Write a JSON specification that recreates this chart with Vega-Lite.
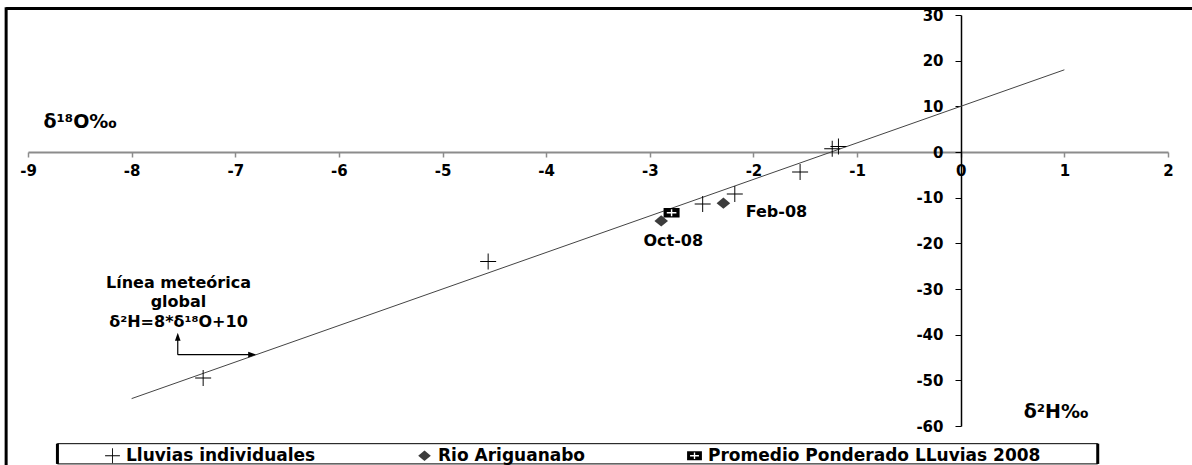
{
  "$schema": "https://vega.github.io/schema/vega-lite/v6.json",
  "width": 1140,
  "height": 411,
  "autosize": {"type": "none"},
  "padding": {"left": 28, "top": 15, "right": 24, "bottom": 39},
  "background": "white",
  "config": {
    "view": {"stroke": null},
    "font": "DejaVu Sans",
    "text": {"font": "DejaVu Sans", "fontWeight": "bold", "color": "black"}
  },
  "data": {
    "values": [
      {"d18O": -7.31, "d2H": -49.5, "serie": "Lluvias individuales", "etiqueta": ""},
      {"d18O": -4.56, "d2H": -24.0, "serie": "Lluvias individuales", "etiqueta": ""},
      {"d18O": -2.49, "d2H": -11.4, "serie": "Lluvias individuales", "etiqueta": ""},
      {"d18O": -2.18, "d2H": -9.2, "serie": "Lluvias individuales", "etiqueta": ""},
      {"d18O": -1.55, "d2H": -4.4, "serie": "Lluvias individuales", "etiqueta": ""},
      {"d18O": -1.24, "d2H": 0.7, "serie": "Lluvias individuales", "etiqueta": ""},
      {"d18O": -1.18, "d2H": 1.2, "serie": "Lluvias individuales", "etiqueta": ""},
      {"d18O": -2.89, "d2H": -15.1, "serie": "Rio Ariguanabo", "etiqueta": "Oct-08"},
      {"d18O": -2.29, "d2H": -11.2, "serie": "Rio Ariguanabo", "etiqueta": "Feb-08"},
      {"d18O": -2.79, "d2H": -13.3, "serie": "Promedio Ponderado LLuvias 2008", "etiqueta": ""}
    ]
  },
  "layer": [
    {
      "data": {"values": [{}]},
      "mark": {"type": "rule", "color": "black", "strokeWidth": 3},
      "encoding": {
        "x": {"datum": -9.211, "type": "quantitative"},
        "x2": {"datum": 2.5},
        "y": {"datum": 31.4, "type": "quantitative"},
        "y2": {"datum": 31.4}
      }
    },
    {
      "data": {"values": [{}]},
      "mark": {"type": "rule", "color": "black", "strokeWidth": 3},
      "encoding": {
        "x": {"datum": -9.211, "type": "quantitative"},
        "x2": {"datum": -9.211},
        "y": {"datum": 31.7, "type": "quantitative"},
        "y2": {"datum": -70}
      }
    },
    {
      "data": {"values": [{}]},
      "mark": {"type": "rect", "filled": false, "stroke": "black", "strokeWidth": 1},
      "encoding": {
        "x": {"datum": -8.716, "type": "quantitative"},
        "x2": {"datum": 1.322},
        "y": {"datum": -63.87, "type": "quantitative"},
        "y2": {"datum": -68.3}
      }
    },
    {
      "data": {"values": [{}]},
      "mark": {"type": "rule", "color": "black", "strokeWidth": 3},
      "encoding": {
        "x": {"datum": -8.716, "type": "quantitative"},
        "x2": {"datum": -8.716},
        "y": {"datum": -63.87, "type": "quantitative"},
        "y2": {"datum": -68.3}
      }
    },
    {
      "data": {"values": [{}]},
      "mark": {"type": "rule", "color": "black", "strokeWidth": 3},
      "encoding": {
        "x": {"datum": 1.322, "type": "quantitative"},
        "x2": {"datum": 1.322},
        "y": {"datum": -63.87, "type": "quantitative"},
        "y2": {"datum": -68.3}
      }
    },
    {
      "data": {"values": [{}]},
      "mark": {"type": "rule", "color": "#444444", "strokeWidth": 1},
      "encoding": {
        "x": {"datum": -8, "type": "quantitative"},
        "x2": {"datum": 1},
        "y": {"datum": -54, "type": "quantitative"},
        "y2": {"datum": 18}
      }
    },
    {
      "data": {"values": [{}]},
      "mark": {"type": "rule", "color": "black", "strokeWidth": 1.2},
      "encoding": {
        "x": {"datum": -7.555, "type": "quantitative"},
        "x2": {"datum": -7.555},
        "y": {"datum": -44.38, "type": "quantitative"},
        "y2": {"datum": -40.5}
      }
    },
    {
      "data": {"values": [{}]},
      "mark": {"type": "rule", "color": "black", "strokeWidth": 1.2},
      "encoding": {
        "x": {"datum": -7.555, "type": "quantitative"},
        "x2": {"datum": -6.85},
        "y": {"datum": -44.38, "type": "quantitative"},
        "y2": {"datum": -44.38}
      }
    },
    {
      "data": {"values": [{}]},
      "mark": {"type": "point", "shape": "M0,0L-0.7,2L0.7,2Z", "filled": true, "color": "black", "size": 64, "opacity": 1},
      "encoding": {
        "x": {"datum": -7.555, "type": "quantitative"},
        "y": {"datum": -39.57, "type": "quantitative"}
      }
    },
    {
      "data": {"values": [{}]},
      "mark": {"type": "point", "shape": "M0,0L-2,-0.7L-2,0.7Z", "filled": true, "color": "black", "size": 64, "opacity": 1},
      "encoding": {
        "x": {"datum": -6.798, "type": "quantitative"},
        "y": {"datum": -44.38, "type": "quantitative"}
      }
    },
    {
      "mark": {"type": "point", "filled": true, "opacity": 1, "size": 256, "strokeWidth": 0},
      "encoding": {
        "x": {
          "field": "d18O",
          "type": "quantitative",
          "scale": {"domain": [-9, 2], "nice": false, "zero": false},
          "axis": {
            "title": null,
            "values": [-9, -8, -7, -6, -5, -4, -3, -2, -1, 0, 1, 2],
            "labelExpr": "datum.value < 0 ? '-' + abs(datum.value) : '' + datum.value",
            "offset": -274,
            "grid": false,
            "domainColor": "#8c8c8c",
            "domainWidth": 2,
            "tickColor": "#8c8c8c",
            "tickWidth": 1.5,
            "tickSize": 5,
            "labelFont": "DejaVu Sans",
            "labelFontWeight": "bold",
            "labelFontSize": 15,
            "labelColor": "black",
            "labelPadding": 6,
            "labelFlush": false,
            "labelOverlap": false
          }
        },
        "y": {
          "field": "d2H",
          "type": "quantitative",
          "scale": {"domain": [-60, 30], "nice": false, "zero": false},
          "axis": {
            "title": null,
            "values": [-60, -50, -40, -30, -20, -10, 0, 10, 20, 30],
            "labelExpr": "datum.value < 0 ? '-' + abs(datum.value) : '' + datum.value",
            "offset": -933,
            "grid": false,
            "domainColor": "black",
            "domainWidth": 1.5,
            "tickColor": "black",
            "tickWidth": 1,
            "tickSize": 6,
            "labelFont": "DejaVu Sans",
            "labelFontWeight": "bold",
            "labelFontSize": 15,
            "labelColor": "black",
            "labelPadding": 12,
            "labelFlush": false,
            "labelOverlap": false
          }
        },
        "shape": {
          "field": "serie",
          "type": "nominal",
          "scale": {
            "domain": ["Lluvias individuales", "Rio Ariguanabo", "Promedio Ponderado LLuvias 2008"],
            "range": [
              "M-1,-0.06H-0.06V-1H0.06V-0.06H1V0.06H0.06V1H-0.06V0.06H-1Z",
              "M-0.85,0L0,-0.7L0.85,0L0,0.7Z",
              "M-1,-0.6H1V0.6H-1ZM-0.09,-0.45V-0.09H-0.6V0.09H-0.09V0.45H0.09V0.09H0.6V-0.09H0.09V-0.45Z"
            ]
          },
          "legend": {
            "orient": "none",
            "legendX": 76,
            "legendY": 432,
            "direction": "horizontal",
            "columns": 3,
            "title": null,
            "labelFont": "DejaVu Sans",
            "labelFontWeight": "bold",
            "labelFontSize": 17,
            "labelColor": "black",
            "labelOffset": 5,
            "columnPadding": 100,
            "symbolSize": 220,
            "symbolStrokeWidth": 0,
            "padding": 0,
            "labelLimit": 600
          }
        },
        "color": {
          "field": "serie",
          "type": "nominal",
          "scale": {
            "domain": ["Lluvias individuales", "Rio Ariguanabo", "Promedio Ponderado LLuvias 2008"],
            "range": ["#000000", "#3c3c3c", "#000000"]
          },
          "legend": {
            "orient": "none",
            "legendX": 76,
            "legendY": 432,
            "direction": "horizontal",
            "columns": 3,
            "title": null,
            "labelFont": "DejaVu Sans",
            "labelFontWeight": "bold",
            "labelFontSize": 17,
            "labelColor": "black",
            "labelOffset": 5,
            "columnPadding": 100,
            "symbolSize": 220,
            "symbolStrokeWidth": 0,
            "padding": 0,
            "labelLimit": 600
          }
        }
      }
    },
    {
      "transform": [{"filter": "datum.etiqueta == 'Oct-08'"}],
      "mark": {"type": "text", "fontSize": 16, "align": "center", "baseline": "alphabetic", "dx": 12, "dy": 25},
      "encoding": {
        "x": {"field": "d18O", "type": "quantitative"},
        "y": {"field": "d2H", "type": "quantitative"},
        "text": {"field": "etiqueta"}
      }
    },
    {
      "transform": [{"filter": "datum.etiqueta == 'Feb-08'"}],
      "mark": {"type": "text", "fontSize": 16, "align": "center", "baseline": "alphabetic", "dx": 53, "dy": 13.5},
      "encoding": {
        "x": {"field": "d18O", "type": "quantitative"},
        "y": {"field": "d2H", "type": "quantitative"},
        "text": {"field": "etiqueta"}
      }
    },
    {
      "data": {"values": [{}]},
      "mark": {"type": "text", "fontSize": 19, "align": "left", "baseline": "alphabetic"},
      "encoding": {
        "x": {"datum": -8.851, "type": "quantitative"},
        "y": {"datum": 5.26, "type": "quantitative"},
        "text": {"value": "δ¹⁸O‰"}
      }
    },
    {
      "data": {"values": [{}]},
      "mark": {"type": "text", "fontSize": 19, "align": "left", "baseline": "alphabetic"},
      "encoding": {
        "x": {"datum": 0.608, "type": "quantitative"},
        "y": {"datum": -58.25, "type": "quantitative"},
        "text": {"value": "δ²H‰"}
      }
    },
    {
      "data": {"values": [{}]},
      "mark": {"type": "text", "fontSize": 16, "align": "center", "baseline": "alphabetic", "lineHeight": 19.5},
      "encoding": {
        "x": {"datum": -7.548, "type": "quantitative"},
        "y": {"datum": -29.78, "type": "quantitative"},
        "text": {"value": ["Línea meteórica", "global", "δ²H=8*δ¹⁸O+10"]}
      }
    }
  ]
}
